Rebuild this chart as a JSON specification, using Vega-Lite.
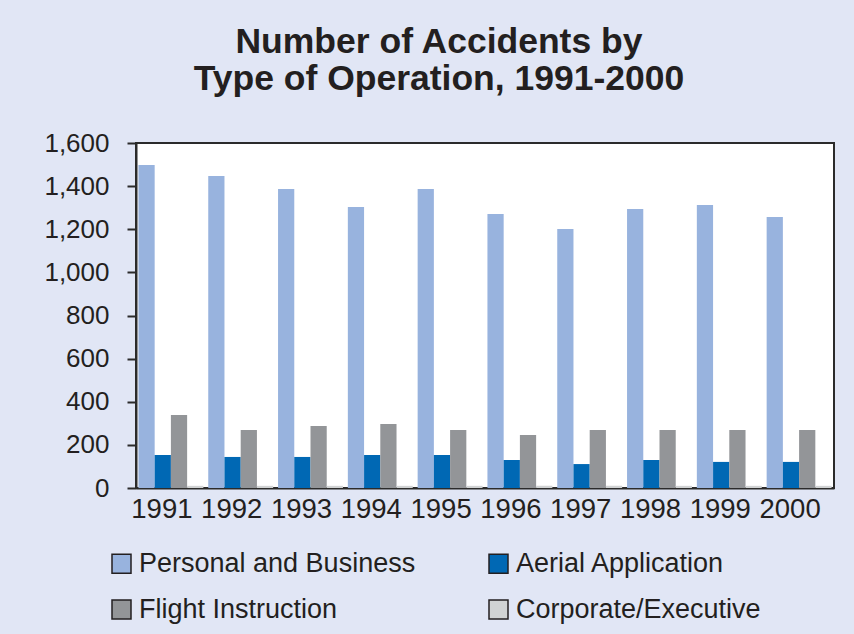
{
  "$schema": "https://vega.github.io/schema/vega-lite/v6.json",
  "autosize": {"type": "none"},
  "width": 698,
  "height": 345,
  "padding": {"left": 136, "top": 143, "right": 20, "bottom": 146},
  "background": "#e1e6f5",
  "title": {
    "text": ["Number of Accidents by", "Type of Operation, 1991-2000"],
    "font": "Liberation Sans",
    "fontSize": 35.5,
    "fontWeight": "bold",
    "color": "#231f20",
    "lineHeight": 37,
    "anchor": "middle",
    "frame": "bounds",
    "offset": 33
  },
  "config": {
    "view": {"stroke": "#2b2b2b", "strokeWidth": 2, "fill": "white"},
    "font": "Liberation Sans"
  },
  "data": {
    "values": [
      {"year": "1991", "type": "Personal and Business", "accidents": 1498},
      {"year": "1991", "type": "Aerial Application", "accidents": 153},
      {"year": "1991", "type": "Flight Instruction", "accidents": 339},
      {"year": "1991", "type": "Corporate/Executive", "accidents": 10},
      {"year": "1992", "type": "Personal and Business", "accidents": 1447},
      {"year": "1992", "type": "Aerial Application", "accidents": 144},
      {"year": "1992", "type": "Flight Instruction", "accidents": 269},
      {"year": "1992", "type": "Corporate/Executive", "accidents": 10},
      {"year": "1993", "type": "Personal and Business", "accidents": 1387},
      {"year": "1993", "type": "Aerial Application", "accidents": 144},
      {"year": "1993", "type": "Flight Instruction", "accidents": 288},
      {"year": "1993", "type": "Corporate/Executive", "accidents": 10},
      {"year": "1994", "type": "Personal and Business", "accidents": 1303},
      {"year": "1994", "type": "Aerial Application", "accidents": 153},
      {"year": "1994", "type": "Flight Instruction", "accidents": 297},
      {"year": "1994", "type": "Corporate/Executive", "accidents": 10},
      {"year": "1995", "type": "Personal and Business", "accidents": 1387},
      {"year": "1995", "type": "Aerial Application", "accidents": 153},
      {"year": "1995", "type": "Flight Instruction", "accidents": 269},
      {"year": "1995", "type": "Corporate/Executive", "accidents": 10},
      {"year": "1996", "type": "Personal and Business", "accidents": 1271},
      {"year": "1996", "type": "Aerial Application", "accidents": 130},
      {"year": "1996", "type": "Flight Instruction", "accidents": 246},
      {"year": "1996", "type": "Corporate/Executive", "accidents": 10},
      {"year": "1997", "type": "Personal and Business", "accidents": 1201},
      {"year": "1997", "type": "Aerial Application", "accidents": 111},
      {"year": "1997", "type": "Flight Instruction", "accidents": 269},
      {"year": "1997", "type": "Corporate/Executive", "accidents": 10},
      {"year": "1998", "type": "Personal and Business", "accidents": 1294},
      {"year": "1998", "type": "Aerial Application", "accidents": 130},
      {"year": "1998", "type": "Flight Instruction", "accidents": 269},
      {"year": "1998", "type": "Corporate/Executive", "accidents": 10},
      {"year": "1999", "type": "Personal and Business", "accidents": 1312},
      {"year": "1999", "type": "Aerial Application", "accidents": 121},
      {"year": "1999", "type": "Flight Instruction", "accidents": 269},
      {"year": "1999", "type": "Corporate/Executive", "accidents": 10},
      {"year": "2000", "type": "Personal and Business", "accidents": 1257},
      {"year": "2000", "type": "Aerial Application", "accidents": 121},
      {"year": "2000", "type": "Flight Instruction", "accidents": 269},
      {"year": "2000", "type": "Corporate/Executive", "accidents": 10}
    ]
  },
  "mark": {"type": "bar"},
  "encoding": {
    "x": {
      "field": "year",
      "type": "nominal",
      "scale": {"paddingInner": 0.07, "paddingOuter": 0.035},
      "axis": {
        "title": null,
        "labelAngle": 0,
        "labelFontSize": 27.5,
        "labelColor": "#231f20",
        "labelPadding": 7,
        "labelOffset": -9,
        "ticks": false,
        "domainColor": "#2b2b2b",
        "domainWidth": 2
      }
    },
    "xOffset": {
      "field": "type",
      "type": "nominal",
      "sort": ["Personal and Business", "Aerial Application", "Flight Instruction", "Corporate/Executive"],
      "scale": {"paddingInner": 0, "paddingOuter": 0}
    },
    "y": {
      "field": "accidents",
      "type": "quantitative",
      "scale": {"domain": [0, 1600], "nice": false},
      "axis": {
        "title": null,
        "values": [0, 200, 400, 600, 800, 1000, 1200, 1400, 1600],
        "format": ",d",
        "grid": false,
        "labelFontSize": 26,
        "labelColor": "#231f20",
        "labelPadding": 18,
        "tickSize": 9,
        "tickColor": "#2b2b2b",
        "tickWidth": 2,
        "domainColor": "#2b2b2b",
        "domainWidth": 2
      }
    },
    "color": {
      "field": "type",
      "type": "nominal",
      "sort": ["Personal and Business", "Aerial Application", "Flight Instruction", "Corporate/Executive"],
      "scale": {
        "domain": ["Personal and Business", "Aerial Application", "Flight Instruction", "Corporate/Executive"],
        "range": ["#98b3de", "#0068b4", "#939598", "#d1d3d4"]
      },
      "legend": {
        "title": null,
        "orient": "none",
        "legendX": -28,
        "legendY": 407,
        "direction": "horizontal",
        "columns": 2,
        "symbolType": "square",
        "symbolSize": 361,
        "symbolStrokeColor": "#231f20",
        "symbolStrokeWidth": 1.5,
        "labelFontSize": 27,
        "labelColor": "#231f20",
        "labelOffset": 4,
        "labelLimit": 400,
        "rowPadding": 18,
        "columnPadding": 69
      }
    }
  }
}
